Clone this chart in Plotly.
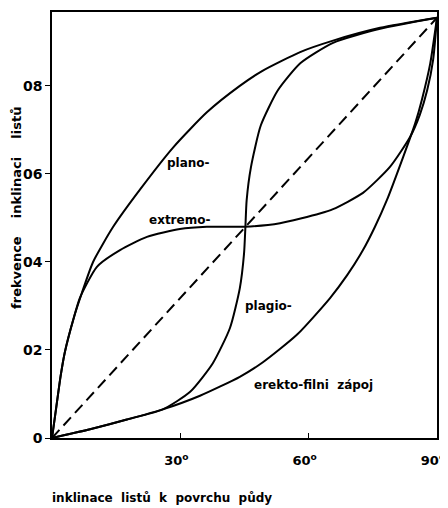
import plotly.graph_objects as go

# angle of leaf inclination (deg) and cumulative frequency
plano_x = [0, 1.0, 2.0, 3.0, 5.0, 7.0, 9.6, 14.3, 20.6, 28.3, 36.2, 43.9, 49.3, 58.0, 65.7, 76.7, 90]
plano_y = [0, 0.07, 0.14, 0.195, 0.27, 0.33, 0.40, 0.48, 0.565, 0.66, 0.74, 0.80, 0.835, 0.877, 0.903, 0.932, 0.955]

extremo_x = [0, 1.0, 2.0, 3.0, 5.0, 6.5, 10.5, 15.9, 22.2, 29.9, 36.2, 45.0, 53.3, 62.6, 65.7, 72.7, 79.0, 83.7, 86.0, 87.7, 89.1, 90]
extremo_y = [0, 0.07, 0.14, 0.195, 0.27, 0.318, 0.389, 0.427, 0.457, 0.475, 0.48, 0.48, 0.488, 0.51, 0.52, 0.557, 0.616, 0.684, 0.735, 0.79, 0.86, 0.955]

plagio_x = [0, 8.9, 17.5, 25.9, 32.3, 37.6, 41.6, 43.9, 44.9, 45.2, 45.5, 46.5, 48.8, 52.8, 58.1, 65.7, 76.7, 90]
plagio_y = [0, 0.02, 0.042, 0.065, 0.105, 0.17, 0.25, 0.34, 0.42, 0.4775, 0.54, 0.615, 0.71, 0.79, 0.852, 0.898, 0.93, 0.955]

erekto_x = [0, 8.9, 17.5, 25.9, 34.6, 43.9, 49.3, 57.3, 65.0, 69.0, 72.7, 75.5, 78.3, 82.1, 84.9, 86.5, 88.4, 90]
erekto_y = [0, 0.02, 0.042, 0.065, 0.096, 0.139, 0.172, 0.235, 0.318, 0.37, 0.427, 0.48, 0.541, 0.639, 0.715, 0.77, 0.85, 0.955]

diag_x = [0, 90]
diag_y = [0, 0.955]

y_ticks = [0, 0.2, 0.4, 0.6, 0.8]
y_ticktext = ["0", "02", "04", "06", "08"]
x_ticks = [30, 60, 90]
x_ticktext = ["30<sup>o</sup>", "60<sup>o</sup>", "90<sup>o</sup>"]

NB = "\u00a0"
curve_labels = ["plano-", "extremo-", "plagio-", "erekto-filni" + NB * 2 + "zápoj"]
label_x = [32.0, 29.9, 50.5, 61.2]
label_y = [0.625, 0.495, 0.30, 0.12]

x_title = (NB * 2).join(["inklinace", "listů", "k", "povrchu", "půdy"])
y_title = (NB * 4).join(["frekvence", "inklinaci", "listů"])

FONT = "DejaVu Sans"

fig = go.Figure()
for xs, ys in [(plano_x, plano_y), (extremo_x, extremo_y), (plagio_x, plagio_y), (erekto_x, erekto_y)]:
    fig.add_trace(go.Scatter(x=xs, y=ys, mode="lines",
                             line=dict(color="black", width=2, shape="spline", smoothing=0.6),
                             hoverinfo="skip", showlegend=False))
fig.add_trace(go.Scatter(x=diag_x, y=diag_y, mode="lines",
                         line=dict(color="black", width=2, dash="11px,6px"),
                         hoverinfo="skip", showlegend=False))

for t, x, y in zip(curve_labels, label_x, label_y):
    fig.add_annotation(x=x, y=y, text=t, showarrow=False,
                       font=dict(family=FONT, size=12, color="black", weight="bold"))

fig.add_annotation(xref="paper", yref="paper", x=-0.005, y=-0.14, xanchor="left", yanchor="middle",
                   text=x_title, showarrow=False,
                   font=dict(family=FONT, size=12, color="black", weight="bold"))
fig.add_annotation(xref="paper", yref="paper", x=-0.091, y=0.54, xanchor="center", yanchor="middle",
                   text=y_title, textangle=-90, showarrow=False,
                   font=dict(family=FONT, size=13, color="black", weight="bold"))

fig.update_xaxes(range=[0, 90], tickvals=x_ticks, ticktext=x_ticktext, ticks="inside", ticklen=5,
                 tickcolor="black", showline=True, linecolor="black", linewidth=1.5, mirror=True,
                 showgrid=False, zeroline=False, ticklabelstandoff=10, ticklabelshift=-4,
                 automargin=False, ticklabeloverflow="allow",
                 tickfont=dict(family=FONT, size=13, color="black", weight="bold"))
fig.update_yaxes(range=[0, 0.968], tickvals=y_ticks, ticktext=y_ticktext, ticks="outside", ticklen=5,
                 tickcolor="black", showline=True, linecolor="black", linewidth=1.5, mirror=True,
                 showgrid=False, zeroline=False, automargin=False,
                 tickfont=dict(family=FONT, size=14, color="black", weight="bold"))

# the page body adds an 8px margin, so the figure is sized to fit the 448x508 window
fig.update_layout(width=440, height=500, margin=dict(l=44, r=11, t=4, b=70),
                  paper_bgcolor="white", plot_bgcolor="white", showlegend=False)

fig.write_html("out.html")
